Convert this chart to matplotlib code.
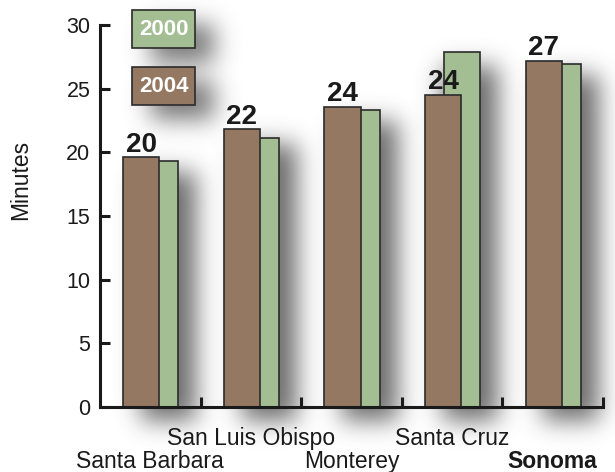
import matplotlib.pyplot as plt
import numpy as np
from matplotlib.patches import Rectangle

counties = ["Santa Barbara", "San Luis Obispo", "Monterey", "Santa Cruz", "Sonoma"]
minutes_2004 = [19.6, 21.8, 23.6, 24.5, 27.2]
minutes_2000 = [19.3, 21.1, 23.3, 27.9, 26.9]
labels_2004 = ["20", "22", "24", "24", "27"]
years = ["2000", "2004"]

BROWN = "#957862"
GREEN = "#a3be92"
EDGE = "#2b2b2b"

plt.rcParams["font.family"] = ["Liberation Sans", "DejaVu Sans"]

fig = plt.figure(figsize=(6.15, 4.72), dpi=100)
ax = fig.add_axes([0.1626, 0.1377, 0.8179, 0.8093])

bw = 0.36
idx = np.arange(len(counties))
x04 = idx + 0.23 + bw / 2
x00 = idx + 0.42 + bw / 2

# legend boxes, in axes coords (x0, y0, x1, y1)
legend_boxes = [(0.064, 0.94, 0.189, 1.039), (0.064, 0.79, 0.189, 0.89)]

# shadow grid, one cell per output pixel
ux = 5 / 503
uy = 30 / 382
xs = np.arange(-0.6, 5.7, ux)
ys = np.arange(-6, 35, uy)
X, Y = np.meshgrid(xs, ys)


def blurred_mask(rects, dx, dy, sigma_px):
    mask = np.zeros_like(X)
    for x0, y0, x1, y1 in rects:
        inside = ((X >= x0 + dx * ux) & (X <= x1 + dx * ux)
                  & (Y >= y0 - dy * uy) & (Y <= y1 - dy * uy))
        mask[inside] = 1
    k = np.arange(-3 * sigma_px, 3 * sigma_px + 1)
    g = np.exp(-k ** 2 / (2 * sigma_px ** 2))
    g /= g.sum()
    mask = np.apply_along_axis(lambda r: np.convolve(r, g, mode="same"), 1, mask)
    mask = np.apply_along_axis(lambda c: np.convolve(c, g, mode="same"), 0, mask)
    return np.clip(mask, 0, 1)


bar_rects = [(x04[i] - bw / 2, 0, x00[i] + bw / 2, max(minutes_2004[i], minutes_2000[i]))
             for i in idx]
leg_rects = [(a * 5, b * 30, c * 5, d * 30) for a, b, c, d in legend_boxes]
a_bars = blurred_mask(bar_rects, 17, 14, 12) * 0.8
a_leg = blurred_mask(leg_rects, 18, 14, 12) * 0.75
shadow = np.zeros(X.shape + (4,))
shadow[..., :3] = 0.28
shadow[..., 3] = 1 - (1 - a_bars) * (1 - a_leg)
# one single image: several images in one axes get composited and vanished here
ax.imshow(shadow, extent=(xs[0], xs[-1], ys[0], ys[-1]), origin="lower",
          aspect="auto", zorder=0, clip_on=False, interpolation="bilinear")

ax.bar(x00, minutes_2000, width=bw, color=GREEN, edgecolor=EDGE, linewidth=1.2, zorder=2)
ax.bar(x04, minutes_2004, width=bw, color=BROWN, edgecolor=EDGE, linewidth=1.2, zorder=3)

for x, v, lab in zip(x04, minutes_2004, labels_2004):
    ax.annotate(lab, (x, v), xytext=(0, 4), textcoords="offset points", ha="center",
                va="baseline", fontsize=20, fontweight="bold", color="#1a1a1a", zorder=5)

for (x0, y0, x1, y1), year, col in zip(legend_boxes, years, [GREEN, BROWN]):
    ax.add_patch(Rectangle((x0, y0), x1 - x0, y1 - y0, transform=ax.transAxes,
                           facecolor=col, edgecolor=EDGE, linewidth=1.2, zorder=6, clip_on=False))
    ax.text((x0 + x1) / 2, (y0 + y1) / 2, year, transform=ax.transAxes, ha="center",
            va="center", fontsize=16, fontweight="bold", color="white", zorder=7)

# staggered category labels
for i, name in enumerate(counties):
    y = -0.1 if i % 2 else -0.16
    ax.text(i + 0.5, y, name, transform=ax.get_xaxis_transform(), ha="center", va="baseline",
            fontsize=16.5, fontweight="bold" if name == "Sonoma" else "normal", color="#1a1a1a")

ax.set_xlim(0, 5)
ax.set_ylim(0, 30)
ax.set_xticks(np.arange(1, 6))
ax.set_xticklabels([])
ax.set_yticks(np.arange(0, 31, 5))
ax.tick_params(axis="both", direction="in", length=7, width=2.2, color="#1a1a1a")
ax.tick_params(axis="y", labelsize=15.5, pad=7, labelcolor="#1a1a1a")
for side in ["top", "right"]:
    ax.spines[side].set_visible(False)
for side in ["left", "bottom"]:
    ax.spines[side].set_linewidth(2.2)
    ax.spines[side].set_color("#1a1a1a")
    ax.spines[side].set_zorder(4)

ax.set_ylabel("Minutes", fontsize=16.5, color="#1a1a1a")
ax.yaxis.set_label_coords(-0.135, 0.594)

fig.savefig("out.png", dpi=100)
